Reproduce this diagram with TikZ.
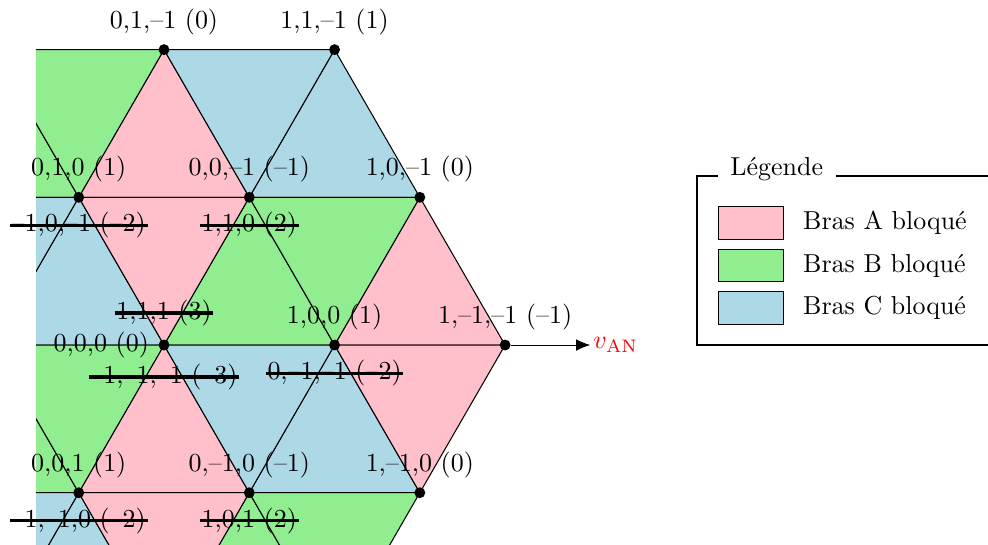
\documentclass[tikz,border=0pt]{standalone}
\usepackage{fontspec}
\usepackage{tikz}
\usetikzlibrary{arrows.meta,positioning}
\definecolor{brasA}{RGB}{255,192,203}
\definecolor{brasB}{RGB}{144,238,144}
\definecolor{brasC}{RGB}{173,216,230}

\begin{document}
\begin{tikzpicture}[
    tri/.style={draw=black, thin},
    pt/.style={circle, fill=black, inner sep=0pt, minimum size=4.2pt},
    barre/.style={inner xsep=0.5pt},
    case/.style={draw=black, thin, minimum width=0.87cm, minimum height=0.44cm, inner sep=0pt}
  ]
  \useasboundingbox (-2.221,-2.708) rectangle (11.158,4.672);
  \begin{scope}[x={(2.3094cm,0cm)}, y={(1.1547cm,2cm)}]
    \begin{scope}
      \clip (-1.732cm,-2.708cm) rectangle (6cm,4.3cm);
      % triangles pointe en haut
      \foreach \i/\j/\c in {-1/1/brasA, 0/1/brasC, -2/1/brasB, -1/0/brasC, 0/0/brasB, 1/0/brasA,
                            -1/-1/brasB, 0/-1/brasA, 1/-1/brasC, 0/-2/brasC, 1/-2/brasB}
        \filldraw[tri, fill=\c] (\i,\j) -- ++(1,0) -- ++(-1,1) -- cycle;
      % triangles pointe en bas
      \foreach \i/\j/\c in {-1/1/brasC, -2/1/brasB, -2/0/brasC, -1/0/brasA, 0/0/brasB, -1/-1/brasB,
                            0/-1/brasC, 1/-1/brasA, -1/-2/brasC, 0/-2/brasA, 1/-2/brasB}
        \filldraw[tri, fill=\c] (\i+1,\j) -- ++(0,1) -- ++(-1,0) -- cycle;
    \end{scope}

    % etats de commutation
    \foreach \i/\j/\n/\txt in {-1/2/e01n/{0,1,–1 (0)}, 0/2/e11n/{1,1,–1 (1)},
                               -1/1/e010/{0,1,0 (1)}, 0/1/e00n/{0,0,–1 (–1)}, 1/1/e10n/{1,0,–1 (0)},
                               1/0/e100/{1,0,0 (1)}, 2/0/e1nn/{1,–1,–1 (–1)},
                               0/-1/e001/{0,0,1 (1)}, 1/-1/e0n0/{0,–1,0 (–1)}, 2/-1/e1n0/{1,–1,0 (0)}} {
      \node[pt] (\n) at (\i,\j) {};
      \node[above=0pt of \n] (t\n) {\txt};
    }
    \node[pt] (e000) at (0,0) {};
    \node[left=0pt of e000] (te000) {0,0,0 (0)};

    % etats redondants
    \foreach \n/\d/\txt in {e010/0pt/{–1,0,–1 (–2)}, e00n/0pt/{1,1,0 (2)}, e000/1.5pt/{–1,–1,–1 (–3)},
                            e100/0pt/{0,–1,–1 (–2)}, e001/0pt/{–1,–1,0 (–2)}, e0n0/0pt/{1,0,1 (2)}} {
      \node[barre, below=\d of \n] (b\n) {\txt};
      \draw[very thick] (b\n.west) -- (b\n.east);
    }
    \node[barre, above=1.5pt of e000] (bh000) {1,1,1 (3)};
    \draw[very thick] (bh000.west) -- (bh000.east);

    \coordinate (vAN) at (2.5,0);
    \draw[-{Latex[length=5.5pt,width=4.5pt]}] (e1nn) -- (vAN) node[right, inner sep=1pt, text=red] (lAN) {$v_{\mathrm{AN}}$};
  \end{scope}

  % legende
  \draw[thick] (7.217,0) rectangle (11.6,2.295);
  \node[fill=white, anchor=base west, inner xsep=5pt] (titre) at (7.488,2.295) {Légende};
  \foreach \k/\c/\b in {0/brasA/A, 1/brasB/B, 2/brasC/C} {
    \node[case, fill=\c] (c\b) at (7.949,1.652-0.575*\k) {};
    \node[right=4pt of c\b] (l\b) {Bras \b\ bloqué};
  }
\end{tikzpicture}
\end{document}
